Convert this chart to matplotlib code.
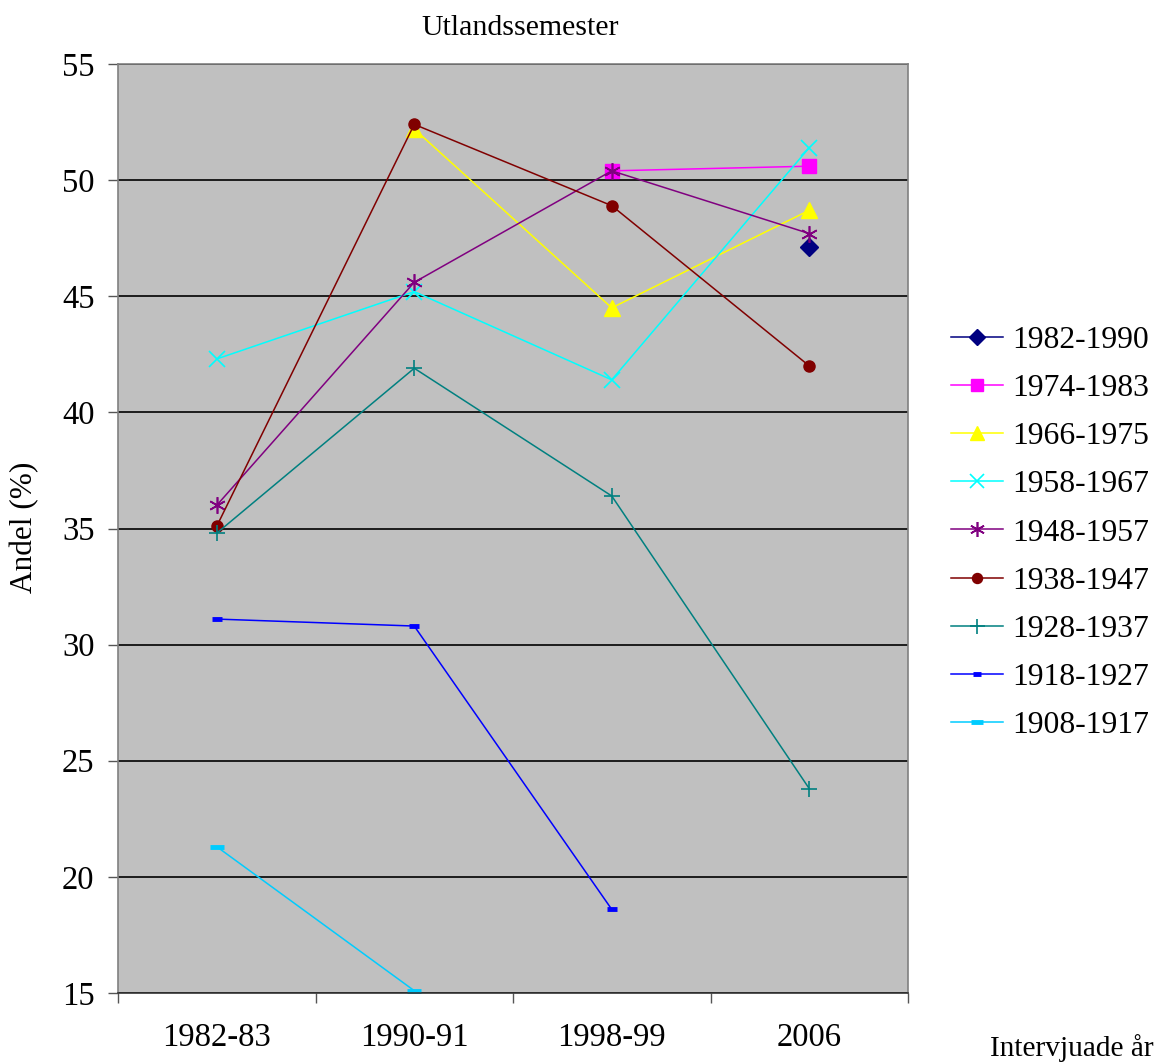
import matplotlib
matplotlib.use('Agg')
import matplotlib.pyplot as plt
import numpy as np

plt.rcParams['font.family'] = ['Liberation Serif', 'DejaVu Serif']

# Survey years and cohort series (percent); None = no data
years = ['1982-83', '1990-91', '1998-99', '2006']

s_1982_1990 = [None, None, None, 47.1]
s_1974_1983 = [None, None, 50.4, 50.6]
s_1966_1975 = [None, 52.2, 44.5, 48.7]
s_1958_1967 = [42.3, 45.2, 41.4, 51.4]
s_1948_1957 = [36.0, 45.6, 50.4, 47.7]
s_1938_1947 = [35.1, 52.4, 48.9, 42.0]
s_1928_1937 = [34.8, 41.9, 36.4, 23.8]
s_1918_1927 = [31.1, 30.8, 18.6, None]
s_1908_1917 = [21.3, 15.1, None, None]

series = [
    ('1982-1990', s_1982_1990, '#000080', 'D', 9, 1),
    ('1974-1983', s_1974_1983, '#FF00FF', 's', 10, 1),
    ('1966-1975', s_1966_1975, '#FFFF00', '^', 11, 1),
    ('1958-1967', s_1958_1967, '#00FFFF', 'x', 11, 1.2),
    ('1948-1957', s_1948_1957, '#800080', (6, 2, 0), 12, 1.2),
    ('1938-1947', s_1938_1947, '#800000', 'o', 8, 1),
    ('1928-1937', s_1928_1937, '#008080', '+', 12, 1.2),
    ('1918-1927', s_1918_1927, '#0000FF', '_', 7, 3.5),
    ('1908-1917', s_1908_1917, '#00CCFF', '_', 10, 3.5),
]

fig = plt.figure(figsize=(11.59, 10.64), dpi=100)
ax = fig.add_axes([118 / 1159, (1064 - 993) / 1064, 790 / 1159, 929 / 1064])
ax.set_facecolor('#C0C0C0')

x = np.arange(len(years))
for label, vals, color, marker, ms, mew in series:
    y = np.array([np.nan if v is None else v for v in vals], dtype=float)
    ax.plot(x, y, color=color, lw=1.1, marker=marker, markersize=ms,
            markeredgewidth=mew, markerfacecolor=color, markeredgecolor=color,
            label=label)

ax.set_xlim(-0.5, len(years) - 0.5)
ax.set_ylim(15, 55)
ax.set_yticks(np.arange(15, 56, 5))
ax.yaxis.grid(True, color='black', lw=1.2)
ax.set_axisbelow(True)

# category boundaries get tick marks, labels sit in the middle
ax.set_xticks(np.arange(-0.5, len(years), 1.0))
ax.set_xticklabels([])
ax.set_xticks(x, minor=True)
ax.set_xticklabels(years, minor=True)
ax.tick_params(axis='x', which='major', length=7, color='#555555', width=1)
ax.tick_params(axis='x', which='minor', length=0, pad=21, labelsize=23.5)
ax.tick_params(axis='y', length=7, color='#555555', width=1, pad=10, labelsize=23.5)

for sp in ax.spines.values():
    sp.set_color('#808080')
    sp.set_linewidth(1.2)
ax.spines['bottom'].set_color('#333333')

fig.text(520 / 1159, 1 - 28 / 1064, 'Utlandssemester', ha='center', va='center', fontsize=21.5)
fig.text(25 / 1159, 1 - 527 / 1064, 'Andel (%)', ha='center', va='center',
         rotation=90, fontsize=22.5)
fig.text(1154 / 1159, 1 - 1048 / 1064, 'Intervjuade år', ha='right', va='center', fontsize=21.2)

ax.legend(loc='center left', bbox_to_anchor=(935 / 1159, 1 - 533 / 1064),
          bbox_transform=fig.transFigure, frameon=False, fontsize=22.8,
          handlelength=1.65, handletextpad=0.3, labelspacing=0.6,
          borderpad=0, markerscale=0.9)

fig.savefig('out.png', dpi=100)
